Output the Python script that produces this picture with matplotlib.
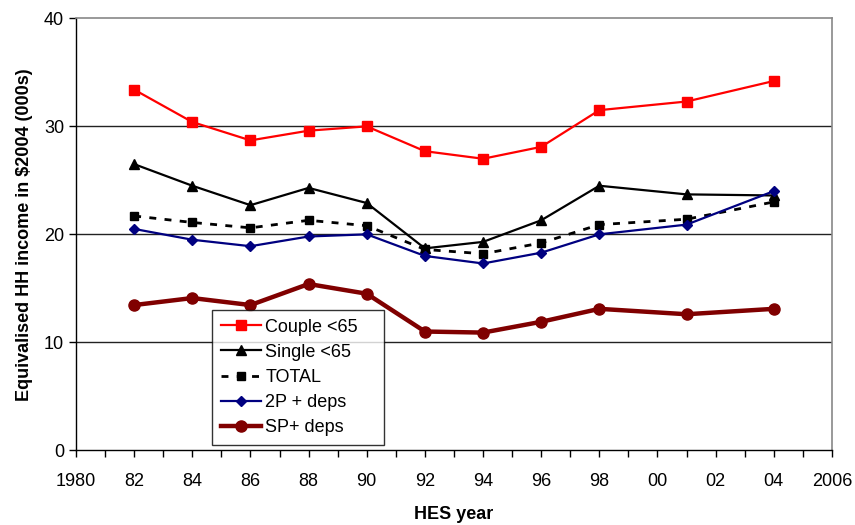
import numpy as np
import matplotlib.pyplot as plt
from matplotlib.ticker import MultipleLocator, FixedLocator

plt.rcParams['font.family'] = ['Liberation Sans', 'DejaVu Sans']

# HES survey years
years = [1982, 1984, 1986, 1988, 1990, 1992, 1994, 1996, 1998, 2001, 2004]

couple_u65 = [33.4, 30.4, 28.7, 29.6, 30.0, 27.7, 27.0, 28.1, 31.5, 32.3, 34.2]
single_u65 = [26.5, 24.5, 22.7, 24.3, 22.9, 18.7, 19.3, 21.3, 24.5, 23.7, 23.6]
total = [21.7, 21.1, 20.6, 21.3, 20.8, 18.6, 18.2, 19.2, 20.9, 21.4, 23.0]
two_p_deps = [20.5, 19.5, 18.9, 19.8, 20.0, 18.0, 17.3, 18.3, 20.0, 20.9, 24.0]
sp_deps = [13.45, 14.1, 13.45, 15.4, 14.5, 11.0, 10.9, 11.9, 13.1, 12.6, 13.1]

tick_years = list(range(1980, 2007, 2))
tick_labels = ['1980'] + [str(y)[2:] for y in tick_years[1:-1]] + ['2006']

fig = plt.figure(figsize=(8.55, 5.25), dpi=100)
ax = fig.add_axes([0.0889, 0.1423, 0.973 - 0.0889, 0.965 - 0.1423])

# gridlines
for v in [10, 20, 30]:
    ax.axhline(v, color='#222222', lw=1.0, zorder=1)

ax.plot(years, couple_u65, color='#ff0000', lw=1.6, marker='s', ms=6.5,
        label='Couple <65', zorder=3)
ax.plot(years, single_u65, color='black', lw=1.6, marker='^', ms=6.5,
        label='Single <65', zorder=3)
ax.plot(years, total, color='black', lw=2.0, ls=(0, (2.5, 3)), marker='s', ms=6,
        label='TOTAL', zorder=3)
ax.plot(years, two_p_deps, color='#000080', lw=1.6, marker='D', ms=5,
        label='2P + deps', zorder=4)
ax.plot(years, sp_deps, color='#800000', lw=3.2, marker='o', ms=8,
        label='SP+ deps', zorder=3)

ax.set_xlim(1980, 2006)
ax.set_ylim(0, 40)
ax.xaxis.set_major_locator(FixedLocator(tick_years))
ax.set_xticklabels(tick_labels)
ax.xaxis.set_minor_locator(MultipleLocator(1))
ax.yaxis.set_major_locator(MultipleLocator(10))

ax.tick_params(axis='x', which='both', direction='out', length=5, width=1,
               labelsize=13, pad=11)
ax.tick_params(axis='y', direction='out', length=5, width=1, labelsize=13)

for side in ['top', 'right']:
    ax.spines[side].set_color('#888888')
    ax.spines[side].set_linewidth(1.2)
for side in ['left', 'bottom']:
    ax.spines[side].set_color('black')
    ax.spines[side].set_linewidth(1.0)

ax.set_xlabel('HES year', fontsize=13, fontweight='bold', labelpad=12)
ax.set_ylabel('Equivalised HH income in $2004 (000s)', fontsize=13,
              fontweight='bold', labelpad=8)

# legend box stretched to the reference width
leg = ax.legend(loc='lower left', bbox_to_anchor=(0.18, 0.012, 0.2275, 0.3),
                mode='expand', fontsize=13, frameon=True, fancybox=False,
                handlelength=2.2, borderpad=0.5, labelspacing=0.45,
                handletextpad=0.25, borderaxespad=0)
leg.get_frame().set_edgecolor('black')
leg.get_frame().set_linewidth(1.0)

fig.savefig('out.png', dpi=100)
